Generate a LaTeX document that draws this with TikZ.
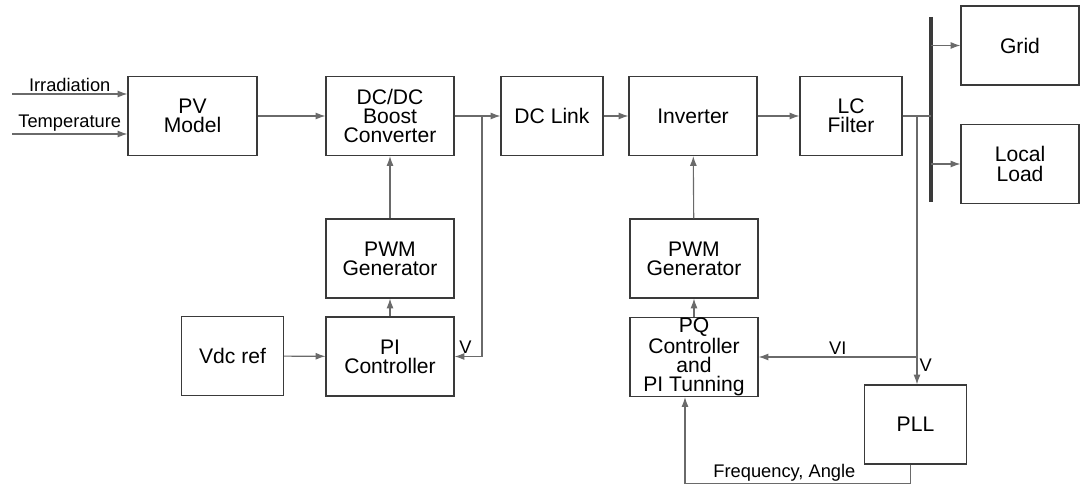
\documentclass[tikz,border=0pt]{standalone}
\usepackage{fontspec}
\setmainfont{Liberation Sans}
\usetikzlibrary{arrows.meta}
\definecolor{boxline}{HTML}{3A3A3A}
\definecolor{wire}{HTML}{6A6A6A}
\begin{document}
\begin{tikzpicture}[x=0.025cm,y=-0.025cm,
    blk/.style={draw=boxline,line width=0.8pt,minimum width=3.2cm,minimum height=1.975cm,
      inner sep=0pt,align=center,font=\fontsize{15}{13.6}\selectfont},
    narrow/.style={blk,minimum width=2.55cm},
    sig/.style={draw=wire,line width=0.8pt,-{Latex[length=7pt,width=5pt]}},
    wireonly/.style={draw=wire,line width=0.8pt},
    lbl/.style={font=\fontsize{13}{15}\selectfont,inner sep=1.5pt}]
    \useasboundingbox (0,0) rectangle (1080,485);
    % blocks
    \node[blk,minimum width=3.225cm] (pv) at (192.5,116) {PV\\Model};
    \node[blk] (dcdc) at (390,116) {DC/DC\\Boost\\Converter};
    \node[narrow] (dclink) at (552,116) {DC Link};
    \node[blk] (inv) at (693,116) {Inverter};
    \node[narrow] (lcf) at (851,116) {LC\\Filter};
    \node[blk,minimum width=2.95cm] (grid) at (1020,45.5) {Grid};
    \node[blk,minimum width=2.95cm] (load) at (1020,164) {Local\\Load};
    \node[blk] (pwma) at (390,258.5) {PWM\\Generator};
    \node[blk] (pi) at (390,356.5) {PI\\Controller};
    \node[narrow] (vdc) at (232.5,356) {Vdc ref};
    \node[blk] (pwmb) at (694,258.5) {PWM\\Generator};
    \node[blk] (pq) at (694,357) {PQ\\Controller\\and\\PI Tunning};
    \node[narrow] (pll) at (915.5,424.5) {PLL};
    % bus bar
    \coordinate (bt) at (931,17);
    \coordinate (bb) at (931,202);
    \draw[boxline,line width=2.2pt] (bt) -- (bb);
    % inputs
    \coordinate (irr) at (12,94);
    \coordinate (tmp) at (12,134);
    \draw[sig] (irr) -- node[lbl,above] {Irradiation} (irr -| pv.west);
    \draw[sig] (tmp) -- node[lbl,above] {Temperature} (tmp -| pv.west);
    % dc side
    \draw[sig] (pv) -- (dcdc);
    \draw[sig] (dcdc) -- (dclink);
    \coordinate (jdc) at (482,116);
    \draw[sig] (jdc) |- node[lbl,pos=0.8,above] {V} (pi.east);
    \draw[sig] (vdc) -- (pi);
    \draw[sig] (pi) -- (pwma);
    \draw[sig] (pwma) -- (dcdc);
    % ac side
    \draw[sig] (dclink) -- (inv);
    \draw[sig] (inv) -- (lcf);
    \draw[wireonly] (lcf.east) -- (lcf.east -| bt);
    \draw[sig] (grid.west -| bt) -- (grid.west);
    \draw[sig] (load.west -| bt) -- (load.west);
    \coordinate (jac) at (917,116);
    \draw[sig] (jac) -- node[lbl,pos=0.93,right] {V} (jac |- pll.north);
    \draw[sig] (jac |- pq.east) -- node[lbl,above] {VI} (pq.east);
    \draw[sig] (pwmb) -- (inv);
    \draw[sig] (pq) -- (pwmb);
    \draw[sig] ([xshift=-0.115cm]pll.south) -- ++(0,19)
      -| node[lbl,pos=0.28,above] {Frequency, Angle} ([xshift=-0.225cm]pq.south);
\end{tikzpicture}
\end{document}
